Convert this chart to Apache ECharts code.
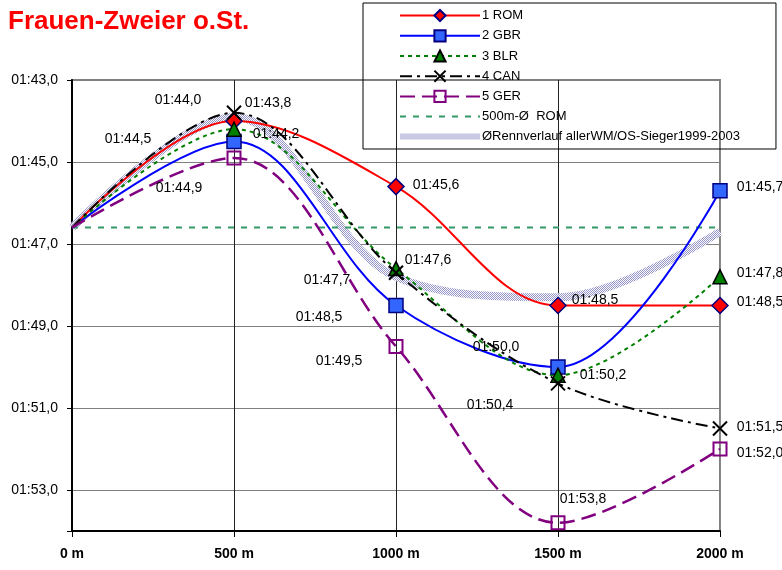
<!DOCTYPE html>
<html><head><meta charset="utf-8">
<script src="https://cdn.jsdelivr.net/npm/echarts@6/dist/echarts.min.js"></script>
<style>html,body{margin:0;padding:0;background:#fff}#c{width:782px;height:570px}</style>
</head><body><div id="c"></div>
<script>
// ---- data (500 m split times in seconds) ----
const distances = ['0 m', '500 m', '1000 m', '1500 m', '2000 m'];
const rom = [106.6, 104.0, 105.6, 108.5, 108.5];
const gbr = [106.6, 104.5, 108.5, 110.0, 105.7];
const blr = [106.6, 104.2, 107.6, 110.2, 107.8];
const can = [106.6, 103.8, 107.7, 110.4, 111.5];
const ger = [106.6, 104.9, 109.5, 113.8, 112.0];
const avgRom = [106.6, 106.6, 106.6, 106.6, 106.6];
const winners = [106.6, 103.9, 107.8, 108.3, 106.7];
const yMin = 103, yMax = 114, yStep = 2;
const names = ['1 ROM', '2 GBR', '3 BLR', '4 CAN', '5 GER', '500m-Ø  ROM', 'ØRennverlauf allerWM/OS-Sieger1999-2003'];

// ---- styling ----
const FONT = '"Liberation Sans", Arial, sans-serif';
function fmt(v) {
  const m = Math.floor(v / 60);
  const s = v - m * 60;
  const ss = s.toFixed(1).replace('.', ',');
  return String(m).padStart(2, '0') + ':' + (s < 10 ? '0' : '') + ss;
}
// label offsets (px) relative to the marker centre, per point
const labelOffsets = {
  rom: [null, [-56, -21], [40, -1], [37, -5], [40, -3]],
  gbr: [null, [-106, -2], [-77, 12], [-62, -20], [40, -4]],
  blr: [null, [42, 5], [32, -8], [45, 0], [40, -4]],
  can: [null, [34, -10], [-69, 7], [-68, 22], [40, -1]],
  ger: [null, [-55, 30], [-57, 15], [25, -24], [40, 4]]
};

function pts(arr, key) {
  return arr.map((v, i) => i === 0
    ? { value: v, symbol: 'none', label: { show: false } }
    : { value: v, label: { show: true, position: 'inside', offset: labelOffsets[key][i] } });
}

// checkered pattern for the winners' band
const pc = document.createElement('canvas');
pc.width = 4; pc.height = 4;
const pctx = pc.getContext('2d');
pctx.fillStyle = '#ffffff'; pctx.fillRect(0, 0, 4, 4);
pctx.fillStyle = '#9494c8';
pctx.fillRect(0, 0, 1, 1); pctx.fillRect(2, 0, 1, 1);
pctx.fillRect(1, 1, 1, 1); pctx.fillRect(3, 1, 1, 1);
pctx.fillRect(0, 2, 1, 1); pctx.fillRect(2, 2, 1, 1);
pctx.fillRect(1, 3, 1, 1); pctx.fillRect(3, 3, 1, 1);
const bandPattern = { image: pc, repeat: 'repeat' };

const labelBase = { fontSize: 14, color: '#000', fontFamily: FONT, formatter: p => fmt(p.value) };
const SM = 0.35;

const legendData = names.map((n, i) => i >= 5
  ? { name: n, itemStyle: { opacity: 0 }, lineStyle: i === 6 ? { width: 6 } : undefined }
  : { name: n });

const chart = echarts.init(document.getElementById('c'), null, { renderer: 'canvas' });
chart.setOption({
  animation: false,
  backgroundColor: '#fff',
  textStyle: { fontFamily: FONT },
  title: {
    text: 'Frauen-Zweier o.St.', left: 3, top: 4,
    textStyle: { color: '#ff0000', fontSize: 26, fontWeight: 'bold', fontFamily: FONT }
  },
  legend: {
    orient: 'vertical', left: 363, top: 3,
    itemWidth: 80, itemHeight: 14, itemGap: 7,
    padding: [6, 36, 6, 34],
    borderColor: '#000', borderWidth: 1,
    textStyle: { fontSize: 13, color: '#000', fontFamily: FONT, padding: [0, 0, 0, -3] },
    data: legendData
  },
  grid: {
    left: 72, right: 62, top: 80, bottom: 39,
    show: true, borderColor: '#808080', borderWidth: 2
  },
  xAxis: {
    type: 'category', boundaryGap: false, data: distances,
    axisLine: { lineStyle: { color: '#000', width: 2 } },
    axisTick: { show: true, length: 6, lineStyle: { color: '#000' } },
    axisLabel: { fontSize: 14, fontWeight: 'bold', color: '#000', margin: 16, fontFamily: FONT },
    splitLine: { show: true, lineStyle: { color: ['#000', '#222', '#222', '#222', '#888'], width: 1 } }
  },
  yAxis: {
    type: 'value', inverse: true, min: yMin, max: yMax, interval: yStep,
    axisLine: { show: true, lineStyle: { color: '#000', width: 2 } },
    axisTick: { show: true, length: 5, lineStyle: { color: '#000' } },
    axisLabel: { fontSize: 14, color: '#000', margin: 14, fontFamily: FONT,
      formatter: v => (v >= yMax ? '' : fmt(v)) },
    splitLine: { show: true, lineStyle: { color: '#808080', width: 1 } }
  },
  series: [
    {
      name: names[6], type: 'line', smooth: SM, data: winners, symbol: 'none', z: 1,
      lineStyle: { color: bandPattern, width: 8 }, itemStyle: { color: '#9a9acc' }
    },
    {
      name: names[5], type: 'line', data: avgRom, symbol: 'none', z: 2,
      lineStyle: { color: '#339966', width: 2, type: [6, 7] }, itemStyle: { color: '#339966' }
    },
    {
      name: names[0], type: 'line', smooth: SM, data: pts(rom, 'rom'), z: 3,
      symbol: 'diamond', symbolSize: 16,
      lineStyle: { color: '#ff0000', width: 2 },
      itemStyle: { color: '#ff0000', borderColor: '#000080', borderWidth: 1.5 },
      label: labelBase
    },
    {
      name: names[1], type: 'line', smooth: SM, data: pts(gbr, 'gbr'), z: 3,
      symbol: 'rect', symbolSize: 14,
      lineStyle: { color: '#0000ff', width: 2 },
      itemStyle: { color: '#3366ff', borderColor: '#000080', borderWidth: 1.5 },
      label: labelBase
    },
    {
      name: names[2], type: 'line', smooth: SM, data: pts(blr, 'blr'), z: 3,
      symbol: 'triangle', symbolSize: 14,
      lineStyle: { color: '#008000', width: 2, type: [4, 4] },
      itemStyle: { color: '#008000', borderColor: '#000', borderWidth: 1.5 },
      label: labelBase
    },
    {
      name: names[3], type: 'line', smooth: SM, data: pts(can, 'can'), z: 3,
      symbol: 'path://M0,0L10,10M10,0L0,10', symbolSize: 14,
      lineStyle: { color: '#000', width: 2, type: [12, 5, 3, 5] },
      itemStyle: { color: 'rgba(0,0,0,0)', borderColor: '#000', borderWidth: 2 },
      label: labelBase
    },
    {
      name: names[4], type: 'line', smooth: SM, data: pts(ger, 'ger'), z: 3,
      symbol: 'rect', symbolSize: 13,
      lineStyle: { color: '#800080', width: 2.5, type: [15, 7] },
      itemStyle: { color: 'rgba(255,255,255,0)', borderColor: '#800080', borderWidth: 2 },
      label: labelBase
    }
  ]
});
</script></body></html>
